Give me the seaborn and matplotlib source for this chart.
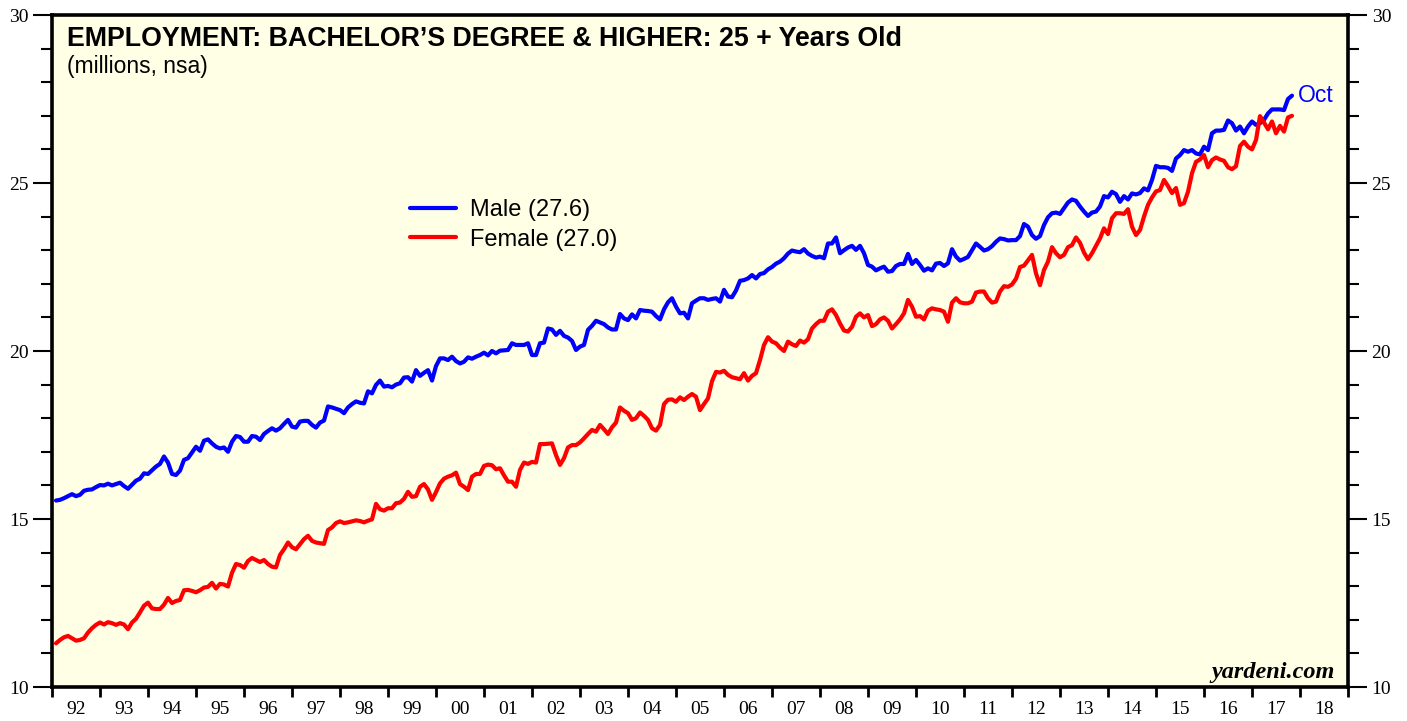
import numpy as np
import pandas as pd
import matplotlib
matplotlib.use("Agg")
import matplotlib.pyplot as plt
import seaborn as sns
from matplotlib.ticker import FixedLocator, MultipleLocator, FixedFormatter, NullFormatter

# ---------------- data (monthly, Jan 1992 - Oct 2017, millions) ----------------
start_year = 1992
male = [
    15.55, 15.57, 15.62, 15.68, 15.74, 15.68, 15.72, 15.84, 15.87, 15.88, 15.95, 16.01,
    16.00, 16.05, 16.00, 16.04, 16.08, 15.98, 15.90, 16.02, 16.14, 16.20, 16.36, 16.34,
    16.45, 16.56, 16.64, 16.86, 16.68, 16.34, 16.31, 16.44, 16.76, 16.81, 16.98, 17.15,
    17.03, 17.33, 17.37, 17.25, 17.15, 17.10, 17.13, 17.00, 17.30, 17.47, 17.44, 17.30,
    17.30, 17.47, 17.45, 17.35, 17.53, 17.62, 17.70, 17.63, 17.70, 17.83, 17.95, 17.75,
    17.72, 17.90, 17.92, 17.92, 17.80, 17.72, 17.87, 17.93, 18.35, 18.32, 18.28, 18.24,
    18.15, 18.32, 18.42, 18.50, 18.46, 18.44, 18.80, 18.74, 18.99, 19.12, 18.94, 18.96,
    18.92, 19.00, 19.04, 19.21, 19.22, 19.09, 19.43, 19.26, 19.35, 19.43, 19.12, 19.55,
    19.78, 19.78, 19.73, 19.83, 19.70, 19.63, 19.68, 19.81, 19.77, 19.83, 19.88, 19.95,
    19.87, 20.00, 19.93, 20.01, 20.02, 20.03, 20.23, 20.18, 20.18, 20.18, 20.23, 19.88,
    19.88, 20.23, 20.25, 20.67, 20.64, 20.48, 20.60, 20.45, 20.40, 20.30, 20.03, 20.13,
    20.18, 20.63, 20.75, 20.90, 20.85, 20.80, 20.70, 20.64, 20.64, 21.10, 20.97, 20.92,
    21.09, 20.97, 21.22, 21.20, 21.19, 21.17, 21.04, 20.94, 21.24, 21.45, 21.57, 21.32,
    21.12, 21.14, 20.97, 21.42, 21.50, 21.57, 21.57, 21.52, 21.55, 21.57, 21.47, 21.82,
    21.62, 21.60, 21.80, 22.09, 22.11, 22.16, 22.26, 22.16, 22.29, 22.32, 22.43, 22.50,
    22.60, 22.66, 22.76, 22.90, 22.99, 22.96, 22.94, 23.03, 22.90, 22.83, 22.78, 22.81,
    22.76, 23.20, 23.20, 23.38, 22.91, 23.00, 23.08, 23.13, 23.01, 23.13, 22.91, 22.56,
    22.51, 22.40, 22.46, 22.51, 22.36, 22.38, 22.53, 22.59, 22.59, 22.89, 22.59, 22.71,
    22.56, 22.39, 22.46, 22.40, 22.60, 22.62, 22.53, 22.61, 23.03, 22.81, 22.69, 22.74,
    22.80, 23.00, 23.20, 23.10, 22.99, 23.03, 23.12, 23.25, 23.35, 23.33, 23.29, 23.30,
    23.30, 23.42, 23.78, 23.70, 23.45, 23.34, 23.42, 23.75, 23.98, 24.10, 24.12, 24.08,
    24.25, 24.42, 24.51, 24.47, 24.30, 24.15, 24.02, 24.12, 24.15, 24.30, 24.61, 24.57,
    24.74, 24.67, 24.44, 24.61, 24.51, 24.69, 24.66, 24.70, 24.84, 24.78, 25.09, 25.51,
    25.47, 25.47, 25.45, 25.36, 25.73, 25.83, 25.98, 25.93, 25.98, 25.88, 25.85, 26.08,
    25.98, 26.48, 26.56, 26.56, 26.58, 26.86, 26.78, 26.56, 26.68, 26.48, 26.68, 26.83,
    26.73, 26.78, 26.88, 27.07, 27.19, 27.19, 27.19, 27.17, 27.50, 27.60,
]
female = [
    11.30, 11.40, 11.48, 11.52, 11.45, 11.38, 11.40, 11.45, 11.62, 11.75, 11.85, 11.92,
    11.86, 11.93, 11.90, 11.85, 11.90, 11.86, 11.72, 11.92, 12.03, 12.22, 12.42, 12.51,
    12.34, 12.32, 12.32, 12.45, 12.65, 12.50, 12.56, 12.59, 12.88, 12.89, 12.86, 12.82,
    12.88, 12.96, 12.98, 13.10, 12.93, 13.07, 13.05, 12.99, 13.40, 13.66, 13.63, 13.55,
    13.75, 13.84, 13.78, 13.72, 13.78, 13.66, 13.58, 13.56, 13.93, 14.10, 14.30, 14.16,
    14.10, 14.25, 14.40, 14.50, 14.35, 14.30, 14.28, 14.26, 14.67, 14.75, 14.88, 14.93,
    14.88, 14.90, 14.93, 14.96, 14.94, 14.90, 14.95, 14.99, 15.45, 15.29, 15.25, 15.32,
    15.32, 15.47, 15.49, 15.60, 15.81, 15.66, 15.68, 15.96, 16.04, 15.88, 15.57, 15.80,
    16.06, 16.20, 16.26, 16.30, 16.38, 16.04, 15.96, 15.86, 16.26, 16.34, 16.34, 16.58,
    16.62, 16.60, 16.48, 16.51, 16.30, 16.11, 16.11, 15.96, 16.46, 16.68, 16.64, 16.70,
    16.68, 17.23, 17.23, 17.24, 17.25, 16.90, 16.61, 16.81, 17.13, 17.20, 17.20, 17.28,
    17.40, 17.53, 17.65, 17.60, 17.80, 17.67, 17.53, 17.73, 17.87, 18.32, 18.22, 18.15,
    17.95, 18.00, 18.17, 18.07, 17.95, 17.70, 17.63, 17.80, 18.42, 18.55, 18.56, 18.49,
    18.62, 18.54, 18.64, 18.72, 18.64, 18.24, 18.42, 18.59, 19.10, 19.38, 19.36, 19.41,
    19.29, 19.22, 19.19, 19.16, 19.34, 19.12, 19.26, 19.34, 19.73, 20.18, 20.41, 20.28,
    20.23, 20.10, 20.00, 20.28, 20.20, 20.15, 20.31, 20.25, 20.35, 20.67, 20.80, 20.90,
    20.90, 21.17, 21.24, 21.07, 20.82, 20.61, 20.58, 20.72, 21.02, 21.12, 21.00, 21.07,
    20.74, 20.80, 20.94, 21.00, 20.90, 20.67, 20.80, 20.94, 21.12, 21.52, 21.32, 21.02,
    21.04, 20.94, 21.20, 21.27, 21.24, 21.22, 21.17, 20.87, 21.44, 21.57, 21.45, 21.42,
    21.42, 21.47, 21.74, 21.77, 21.77, 21.57, 21.44, 21.47, 21.77, 21.93, 21.91, 21.98,
    22.15, 22.50, 22.54, 22.70, 22.86, 22.31, 21.96, 22.41, 22.66, 23.09, 22.91, 22.79,
    22.86, 23.09, 23.15, 23.38, 23.22, 22.93, 22.73, 22.91, 23.13, 23.35, 23.65, 23.48,
    23.95, 24.10, 24.10, 24.08, 24.22, 23.70, 23.45, 23.60, 24.00, 24.35, 24.57, 24.75,
    24.79, 25.09, 24.91, 24.70, 24.85, 24.35, 24.40, 24.74, 25.29, 25.63, 25.70, 25.83,
    25.47, 25.68, 25.76, 25.70, 25.66, 25.47, 25.41, 25.50, 26.10, 26.23, 26.08, 26.00,
    26.28, 26.99, 26.80, 26.60, 26.83, 26.48, 26.70, 26.53, 26.95, 27.00,
]
series_names = ["Male (27.6)", "Female (27.0)"]
year_labels = ["92", "93", "94", "95", "96", "97", "98", "99", "00", "01", "02", "03", "04",
               "05", "06", "07", "08", "09", "10", "11", "12", "13", "14", "15", "16", "17", "18"]
title = "EMPLOYMENT: BACHELOR\u2019S DEGREE & HIGHER: 25 + Years Old"
subtitle = "(millions, nsa)"
last_month_label = "Oct"

n = len(male)
x = start_year + (np.arange(n) + 1) / 12.0
df = pd.DataFrame({
    "year": np.concatenate([x, x]),
    "value": np.array(male + female),
    "series": [series_names[0]] * n + [series_names[1]] * len(female),
})

# ---------------- style ----------------
sns.set_style("ticks")
plt.rcParams["font.family"] = ["Liberation Sans", "DejaVu Sans"]
plt.rcParams["text.color"] = "black"
plt.rcParams["axes.labelcolor"] = "black"
plt.rcParams["xtick.color"] = "black"
plt.rcParams["ytick.color"] = "black"

W, H = 1407, 721
fig = plt.figure(figsize=(W / 100, H / 100), dpi=100)
fig.patch.set_facecolor("white")
L, R, T, B = 52, 1348, 15, 687
ax = fig.add_axes([L / W, 1 - B / H, (R - L) / W, (B - T) / H])
ax.set_facecolor("#FFFFE6")

palette = {series_names[0]: "#0000FF", series_names[1]: "#FF0000"}
sns.lineplot(data=df, x="year", y="value", hue="series", palette=palette,
             linewidth=3.0, ax=ax, legend=True)

ax.set_xlim(1992, 2019)
ax.set_ylim(10, 30)
ax.set_xlabel("")
ax.set_ylabel("")

for s in ax.spines.values():
    s.set_visible(True)
    s.set_linewidth(2.6)
    s.set_color("black")

# x axis: ticks at year boundaries, labels centred in each year
ax.xaxis.set_major_locator(FixedLocator(np.arange(1992, 2020, 1)))
ax.xaxis.set_major_formatter(NullFormatter())
ax.xaxis.set_minor_locator(FixedLocator(np.arange(1992.5, 2019, 1)))
ax.xaxis.set_minor_formatter(FixedFormatter(year_labels))
ax.tick_params(axis="x", which="major", direction="out", length=7, width=2, bottom=True, top=False,
               color="black")
ax.tick_params(axis="x", which="minor", length=0, pad=10, labelsize=14,
               labelfontfamily="Liberation Serif", labelcolor="black")

# y axis: labels on both sides
ax.yaxis.set_major_locator(MultipleLocator(5))
ax.yaxis.set_minor_locator(MultipleLocator(1))
ax.tick_params(axis="y", which="major", direction="out", length=14, width=1.5,
               left=True, right=True, labelleft=True, labelright=True,
               labelsize=14, pad=3, labelfontfamily="Liberation Serif",
               color="black", labelcolor="black")
ax.tick_params(axis="y", which="minor", direction="out", length=8, width=1.5,
               left=True, right=True, color="black")

# legend
handles, labels = ax.get_legend_handles_labels()
leg = ax.legend(handles, labels, loc="upper left",
                bbox_to_anchor=((410 - L) / (R - L), (B - 199) / (B - T)),
                frameon=False, fontsize=17, handlelength=1.95, handletextpad=0.6,
                labelspacing=0.32, borderpad=0, borderaxespad=0)
for t in leg.get_texts():
    t.set_color("black")

# titles
ax.text((67 - L) / (R - L), (B - 26) / (B - T), title, transform=ax.transAxes,
        ha="left", va="top", fontsize=19.3, fontweight="bold", color="black")
ax.text((67 - L) / (R - L), (B - 55) / (B - T), subtitle, transform=ax.transAxes,
        ha="left", va="top", fontsize=16.5, color="black")

# end label
ax.text(x[-1] + 0.13, male[-1], last_month_label, color="#0000FF", fontsize=16.5,
        ha="left", va="center")

# watermark
ax.text(0.990, 0.022, "yardeni.com", transform=ax.transAxes, ha="right", va="center",
        fontsize=17.5, fontweight="bold", fontstyle="italic", family="Liberation Serif",
        color="black")

fig.savefig("out.png", dpi=100)
